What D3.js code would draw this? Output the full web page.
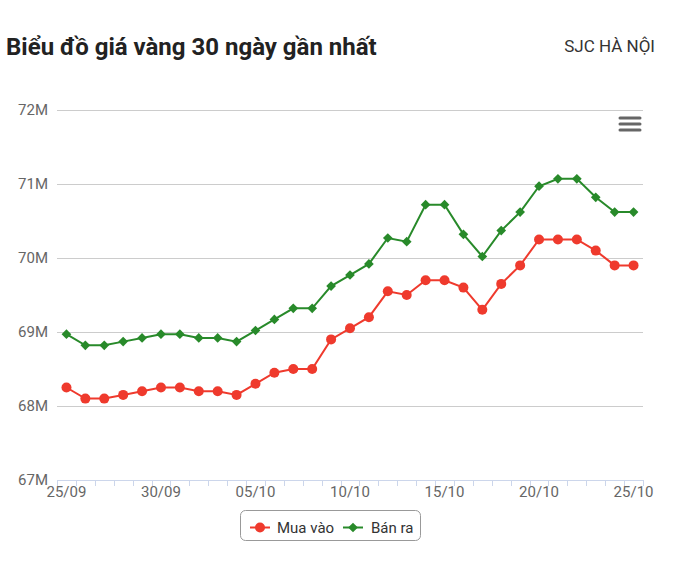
<!DOCTYPE html>
<html><head><meta charset="utf-8">
<script src="https://cdn.jsdelivr.net/npm/d3@7"></script>
<style>html,body{margin:0;padding:0;background:#fff;}svg{display:block;font-family:Roboto,"Noto Sans",sans-serif;}</style>
</head><body>
<svg id="chart" width="678" height="561"></svg>
<script>
const dates = ["25/09","26/09","27/09","28/09","29/09","30/09","01/10","02/10","03/10","04/10","05/10","06/10","07/10","08/10","09/10","10/10","11/10","12/10","13/10","14/10","15/10","16/10","17/10","18/10","19/10","20/10","21/10","22/10","23/10","24/10","25/10"];
const buyValues = [68.25,68.10,68.10,68.15,68.20,68.25,68.25,68.20,68.20,68.15,68.30,68.45,68.50,68.50,68.90,69.05,69.20,69.55,69.50,69.70,69.70,69.60,69.30,69.65,69.90,70.25,70.25,70.25,70.10,69.90,69.90];
const sellValues = [68.97,68.82,68.82,68.87,68.92,68.97,68.97,68.92,68.92,68.87,69.02,69.17,69.32,69.32,69.62,69.77,69.92,70.27,70.22,70.72,70.72,70.32,70.02,70.37,70.62,70.97,71.07,71.07,70.82,70.62,70.62];
const yTicks = [67,68,69,70,71,72];
const xTickLabels = ["25/09","30/09","05/10","10/10","15/10","20/10","25/10"];
const seriesNames = ["Mua vào","Bán ra"];
const title = "Biểu đồ giá vàng 30 ngày gần nhất";
const subtitle = "SJC HÀ NỘI";

const RED = "#ef3a2d", GREEN = "#288a2a";
const svg = d3.select("#chart");
const x = d3.scaleBand().domain(dates).range([57, 643]).padding(0);
const y = d3.scaleLinear().domain([67, 72]).range([480, 110]);
const cx = d => x(d) + x.bandwidth() / 2;

svg.append("text").attr("x", 6).attr("y", 55).attr("font-size", 24).attr("font-weight", "bold").attr("fill", "#222").text(title);
svg.append("text").attr("x", 655).attr("y", 52).attr("text-anchor", "end").attr("font-size", 17).attr("fill", "#333").text(subtitle);

// grid
const g = svg.append("g");
g.selectAll("line.grid").data(yTicks).join("line")
  .attr("x1", 57).attr("x2", 643).attr("y1", d => Math.round(y(d)) + 0.5).attr("y2", d => Math.round(y(d)) + 0.5)
  .attr("stroke", "#cccccc").attr("stroke-width", 1);
g.selectAll("text.ylab").data(yTicks).join("text")
  .attr("x", 48).attr("y", d => y(d) + 5).attr("text-anchor", "end")
  .attr("font-size", 15).attr("fill", "#666").text(d => d + "M");

// x axis
const xAxis = d3.axisBottom(x).tickSize(0).tickFormat(d => xTickLabels.includes(d) ? d : "");
const ax = svg.append("g").attr("transform", "translate(0,480)").call(xAxis);
ax.select(".domain").remove();
ax.selectAll("text").attr("font-size", 15).attr("fill", "#666").attr("font-family", "Roboto").attr("dy", 0).attr("y", 17);
svg.append("line").attr("x1", 57).attr("x2", 643).attr("y1", 480.5).attr("y2", 480.5).attr("stroke", "#ccd6eb");
const edges = dates.map(d => x(d)).concat([x.range()[1]]);
svg.selectAll("line.tick").data(edges).join("line")
  .attr("x1", d => Math.round(d) + 0.5).attr("x2", d => Math.round(d) + 0.5).attr("y1", 480).attr("y2", 486)
  .attr("stroke", "#ccd6eb");

// series
const line = d3.line().x((d, i) => cx(dates[i])).y(d => y(d));
svg.append("path").datum(buyValues).attr("d", line).attr("fill", "none").attr("stroke", RED).attr("stroke-width", 2);
svg.append("path").datum(sellValues).attr("d", line).attr("fill", "none").attr("stroke", GREEN).attr("stroke-width", 2);
svg.selectAll("circle.buy").data(buyValues).join("circle")
  .attr("cx", (d, i) => cx(dates[i])).attr("cy", d => y(d)).attr("r", 5).attr("fill", RED);
const diamond = d3.symbol().type(d3.symbolDiamond2).size(60);
svg.selectAll("path.sell").data(sellValues).join("path")
  .attr("d", diamond).attr("transform", (d, i) => `translate(${cx(dates[i])},${y(d)})`).attr("fill", GREEN);

// menu icon
[118, 124, 130].forEach(yy => svg.append("line").attr("x1", 620).attr("x2", 640).attr("y1", yy).attr("y2", yy)
  .attr("stroke", "#666").attr("stroke-width", 3).attr("stroke-linecap", "round"));

// legend
const lg = svg.append("g");
lg.append("rect").attr("x", 240.5).attr("y", 510.5).attr("width", 180).attr("height", 30).attr("rx", 5)
  .attr("fill", "#fff").attr("stroke", "#999").attr("stroke-width", 1);
const items = [{name: seriesNames[0], color: RED, sx: 250, tx: 277, type: "circle"},
               {name: seriesNames[1], color: GREEN, sx: 343, tx: 371, type: "diamond"}];
items.forEach(it => {
  lg.append("line").attr("x1", it.sx).attr("x2", it.sx + 20).attr("y1", 527.5).attr("y2", 527.5).attr("stroke", it.color).attr("stroke-width", 2);
  if (it.type === "circle") lg.append("circle").attr("cx", it.sx + 10).attr("cy", 527.5).attr("r", 5).attr("fill", it.color);
  else lg.append("path").attr("d", diamond).attr("transform", `translate(${it.sx + 10},527.5)`).attr("fill", it.color);
  lg.append("text").attr("x", it.tx).attr("y", 532.5).attr("font-size", 15).attr("fill", "#333").text(it.name);
});
</script>
</body></html>
